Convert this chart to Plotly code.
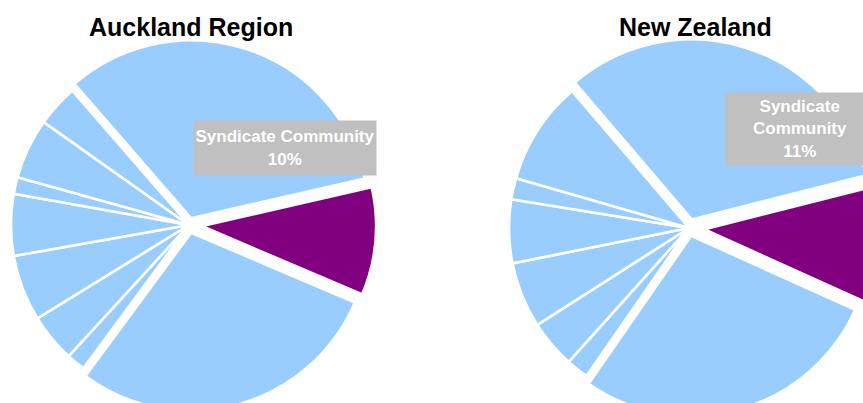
import plotly.graph_objects as go

# ---------------- data ----------------
akl_labels = ["Segment A", "Syndicate Community", "Segment B", "Segment C", "Segment D",
              "Segment E", "Segment F", "Segment G", "Segment H", "Segment I"]
akl_values = [32.8, 10.0, 28.7, 1.7, 4.4, 6.0, 5.6, 1.5, 5.5, 3.8]

nz_labels = ["Segment A", "Syndicate Community", "Segment B", "Segment C", "Segment D",
             "Segment E", "Segment F", "Segment G", "Segment H"]
nz_values = [32.3, 10.7, 27.9, 2.0, 4.3, 5.9, 5.7, 1.9, 9.3]

titles = ["Auckland Region", "New Zealand"]
highlight = "Syndicate Community"

# ---------------- styling ----------------
W, H = 890, 425
BLUE = "#99CCFF"
PURPLE = "#800080"
GREY = "#C0C0C0"
FONT = "Liberation Sans, Arial, sans-serif"


def colors(labels):
    return [PURPLE if l == highlight else BLUE for l in labels]


def widths(labels):
    return [4.5 if l == highlight else 2.6 for l in labels]


def pulls(labels, big_pull, hi_pull):
    out = []
    for i, l in enumerate(labels):
        if l == highlight:
            out.append(hi_pull)
        elif i in (0, 2):
            out.append(big_pull[i])
        else:
            out.append(0)
    return out


def pct_text(labels, values, sep):
    v = values[labels.index(highlight)]
    return f"{highlight.replace(' ', sep)}<br>{round(100 * v / sum(values))}%"


def dom(cx, cy, half):
    return dict(x=[(cx - half) / W, (cx + half) / W],
                y=[1 - (cy + half) / H, 1 - (cy - half) / H])


fig = go.Figure()

akl_pull = pulls(akl_labels, {0: 0.04, 2: 0.045}, 0.056)
fig.add_trace(go.Pie(
    labels=akl_labels, values=akl_values, sort=False, direction="clockwise",
    rotation=-41, pull=akl_pull, textinfo="none", hoverinfo="label+percent",
    marker=dict(colors=colors(akl_labels), line=dict(color="white", width=widths(akl_labels))),
    domain=dom(189, 225, 178 * (1 + max(akl_pull))), showlegend=False))

nz_pull = pulls(nz_labels, {0: 0.05, 2: 0.045}, 0.07)
fig.add_trace(go.Pie(
    labels=nz_labels, values=nz_values, sort=False, direction="clockwise",
    rotation=-40.5, pull=nz_pull, textinfo="none", hoverinfo="label+percent",
    marker=dict(colors=colors(nz_labels), line=dict(color="white", width=widths(nz_labels))),
    domain=dom(689, 228, 180 * (1 + max(nz_pull))), showlegend=False))

common = dict(xref="paper", yref="paper", showarrow=False,
              xanchor="center", yanchor="middle")
annotations = [
    dict(text=f"<b>{titles[0]}</b>", x=191 / W, y=1 - 27 / H,
         font=dict(family=FONT, size=25, color="black"), **common),
    dict(text=f"<b>{titles[1]}</b>", x=695 / W, y=1 - 27 / H,
         font=dict(family=FONT, size=25, color="black"), **common),
    dict(text=f"<b>{pct_text(akl_labels, akl_values, ' ')}</b>", x=285 / W, y=1 - 148.5 / H,
         bgcolor=GREY, borderpad=0, width=182, height=54,
         font=dict(family=FONT, size=17, color="white"), **common),
    dict(text=f"<b>{pct_text(nz_labels, nz_values, '<br>')}</b>", x=800 / W, y=1 - 129 / H,
         bgcolor=GREY, borderpad=0, width=148, height=72,
         font=dict(family=FONT, size=17, color="white"), **common),
]

fig.update_layout(width=W, height=H, margin=dict(l=0, r=0, t=0, b=0),
                  paper_bgcolor="white", plot_bgcolor="white",
                  annotations=annotations)

fig.write_html("out.html", post_script=(
    "document.documentElement.style.overflow='hidden';"
    "document.body.style.overflow='hidden';document.body.style.margin='0';"))
